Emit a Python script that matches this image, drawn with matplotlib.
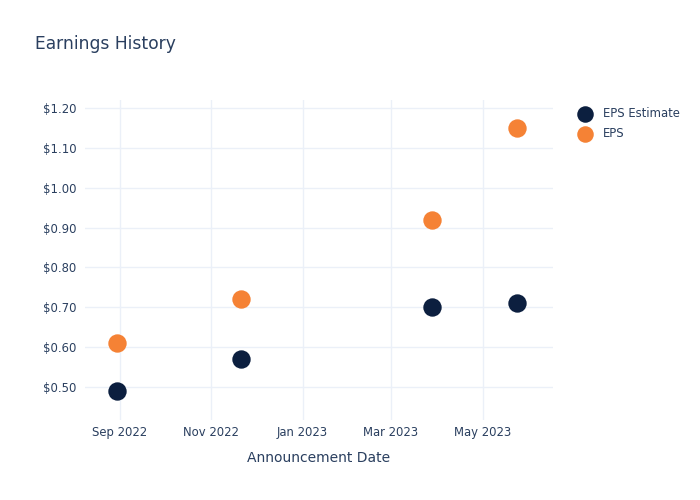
"""Earnings history scatter: EPS estimate vs reported EPS by announcement date."""

import matplotlib
matplotlib.use("Agg")
import matplotlib.pyplot as plt
import matplotlib.dates as mdates
import numpy as np

# Data
dates = np.array(["2022-08-30", "2022-11-21", "2023-03-28", "2023-05-24"], dtype="datetime64[D]")
eps_estimate = [0.49, 0.57, 0.70, 0.71]
eps_actual = [0.61, 0.72, 0.92, 1.15]
y_ticks = [0.50, 0.60, 0.70, 0.80, 0.90, 1.00, 1.10, 1.20]

TEXT = "#2a3f5f"
GRID = "#ebf0f8"
NAVY = "#0c1f3f"
ORANGE = "#f58235"

plt.rcParams["font.family"] = ["DejaVu Sans"]

fig = plt.figure(figsize=(7, 5), dpi=100)
ax = fig.add_axes([85 / 700, 80 / 500, 468 / 700, 320 / 500])

ax.scatter(dates, eps_estimate, s=175, color=NAVY, label="EPS Estimate", zorder=3, linewidths=0)
ax.scatter(dates, eps_actual, s=175, color=ORANGE, label="EPS", zorder=3, linewidths=0)

ax.set_xlim(np.datetime64("2022-08-09"), np.datetime64("2023-06-17"))
ax.set_ylim(0.417, 1.22)

ax.xaxis.set_major_locator(mdates.MonthLocator(bymonth=[1, 3, 5, 9, 11]))
ax.xaxis.set_major_formatter(mdates.DateFormatter("%b %Y"))
ax.set_yticks(y_ticks)
ax.set_yticklabels([f"${v:.2f}" for v in y_ticks])

ax.grid(True, color=GRID, linewidth=1)
ax.set_axisbelow(True)
for spine in ax.spines.values():
    spine.set_visible(False)
ax.tick_params(length=0, labelsize=8.4, labelcolor=TEXT)
ax.tick_params(axis="x", pad=4)
ax.tick_params(axis="y", pad=6)

ax.set_xlabel("Announcement Date", fontsize=10, color=TEXT, labelpad=9)

fig.text(35 / 700, 1 - 44 / 500, "Earnings History", fontsize=12.3, color=TEXT, va="center")

ax.legend(loc="upper left", bbox_to_anchor=(1.02, 1.012), frameon=False,
          fontsize=8.4, labelcolor=TEXT, handletextpad=0.55, labelspacing=0.62,
          markerscale=0.9)

fig.savefig("out.png", dpi=100)
